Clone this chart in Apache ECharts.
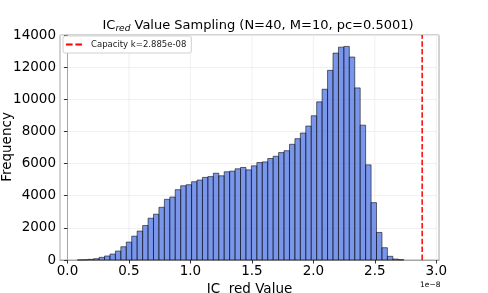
<!DOCTYPE html>
<html>
<head>
<meta charset="utf-8">
<script src="https://cdn.jsdelivr.net/npm/echarts@6/dist/echarts.min.js"></script>
<style>
html,body{margin:0;padding:0;background:#fff;}
#main{width:488px;height:293px;}
</style>
</head>
<body>
<div id="main"></div>
<script>
// x values are in units of 1e-8
const binMin = 0.08;
const binMax = 2.735;
const counts = [5, 15, 40, 80, 165, 250, 370, 557, 825, 1115,
  1485, 1800, 2145, 2600, 2850, 3280, 3775, 3920, 4375, 4620,
  4685, 4870, 4975, 5140, 5190, 5400, 5240, 5490, 5530, 5675,
  5755, 5610, 5860, 6065, 6105, 6315, 6455, 6685, 6800, 7200,
  7550, 7900, 8335, 8975, 9840, 10625, 11800, 12875, 13245, 13290,
  12630, 10710, 8390, 5920, 3570, 1715, 765, 230, 60, 20];
const capacityK = 2.885;
const capacityLabel = 'Capacity k=2.885e-08';
const xTickValues = [0, 0.5, 1.0, 1.5, 2.0, 2.5, 3.0];
const xTickLabels = ['0.0', '0.5', '1.0', '1.5', '2.0', '2.5', '3.0'];

const nBins = counts.length;
const bw = (binMax - binMin) / nBins;
const histData = counts.map((c, i) => [binMin + i * bw, binMin + (i + 1) * bw, c]);

const chart = echarts.init(document.getElementById('main'));
const FONT = 'DejaVu Sans';
chart.setOption({
  animation: false,
  backgroundColor: '#fff',
  textStyle: {fontFamily: FONT},
  grid: {left: 60, right: 49, top: 35, bottom: 33, show: true, borderColor: '#a6a6a6', borderWidth: 1,
         containLabel: false, outerBoundsMode: 'none'},
  xAxis: {
    type: 'value', min: -0.061, max: 3.022,
    axisLine: {show: true, lineStyle: {color: '#a6a6a6', width: 1}},
    axisTick: {show: true, length: 3.5, lineStyle: {color: '#333'}, customValues: xTickValues},
    axisLabel: {
      fontFamily: FONT, fontSize: 13.5, color: '#000', margin: 4,
      customValues: xTickValues,
      formatter: v => {
        const k = xTickValues.findIndex(t => Math.abs(t - v) < 1e-6);
        return k >= 0 ? xTickLabels[k] : '';
      }
    },
    splitLine: {show: false},
    name: 'IC  red Value', nameLocation: 'middle', nameGap: 19,
    nameTextStyle: {fontFamily: FONT, fontSize: 13.5, color: '#000'}
  },
  yAxis: {
    type: 'value', min: 0, max: 14000, interval: 2000,
    axisLine: {show: true, lineStyle: {color: '#a6a6a6', width: 1}},
    axisTick: {show: true, length: 3.5, lineStyle: {color: '#333'}},
    axisLabel: {fontFamily: FONT, fontSize: 13.5, color: '#000', margin: 4, formatter: v => String(v)},
    splitLine: {show: true, lineStyle: {color: '#ececec', width: 0.8}}
  },
  legend: {
    left: 63, top: 36,
    data: [capacityLabel],
    icon: 'path://M0,0H7V2H0Z M10,0H17V2H10Z',
    itemWidth: 16, itemHeight: 2.5, itemGap: 6,
    padding: [4, 5, 4, 3],
    borderColor: '#d0d0d0', borderWidth: 1, borderRadius: 2,
    backgroundColor: '#fff',
    textStyle: {fontFamily: FONT, fontSize: 8.5, color: '#222', padding: [0, 0, 0, 4]}
  },
  graphic: [
    {
      type: 'text', left: 249.5 - 147, top: 19,
      style: {
        text: 'IC{sub|red} Value Sampling (N=40, M=10, pc=0.5001)',
        font: '13px "DejaVu Sans"', fill: '#000',
        rich: {sub: {fontSize: 9, fontStyle: 'italic', fontFamily: FONT, fill: '#000', padding: [6, 0, 0, 0]}}
      }
    },
    {
      type: 'text', x: 7, y: 147, rotation: Math.PI / 2,
      style: {text: 'Frequency', font: '13.5px "DejaVu Sans"', fill: '#000', align: 'center', verticalAlign: 'middle'}
    },
    {
      type: 'text', left: 420, top: 281,
      style: {text: '1e\u22128', font: '7.5px "DejaVu Sans"', fill: '#000'}
    }
  ],
  series: [
    {
      type: 'custom',
      name: 'xgrid',
      data: xTickValues.map(v => [v]),
      encode: {x: 0},
      silent: true,
      z: 0,
      renderItem: (params, api) => {
        const top = api.coord([api.value(0), 14000]);
        const bot = api.coord([api.value(0), 0]);
        return {
          type: 'line',
          shape: {x1: top[0], y1: top[1], x2: bot[0], y2: bot[1]},
          style: {stroke: '#ececec', lineWidth: 0.8}
        };
      }
    },
    {
      type: 'custom',
      name: 'hist',
      data: histData,
      encode: {x: [0, 1], y: 2},
      z: 2,
      renderItem: (params, api) => {
        const p0 = api.coord([api.value(0), api.value(2)]);
        const p1 = api.coord([api.value(1), 0]);
        return {
          type: 'rect',
          shape: {x: p0[0], y: p0[1], width: p1[0] - p0[0], height: p1[1] - p0[1]},
          style: {fill: 'rgba(65,105,225,0.7)', stroke: 'rgba(0,0,0,0.7)', lineWidth: 0.8}
        };
      }
    },
    {
      type: 'line',
      name: capacityLabel,
      data: [[capacityK, 0], [capacityK, 14000]],
      symbol: 'none',
      z: 3,
      itemStyle: {color: '#ff0000'},
      lineStyle: {color: '#ff0000', width: 1.5, type: [5.5, 2.4]}
    }
  ]
});
</script>
</body>
</html>
